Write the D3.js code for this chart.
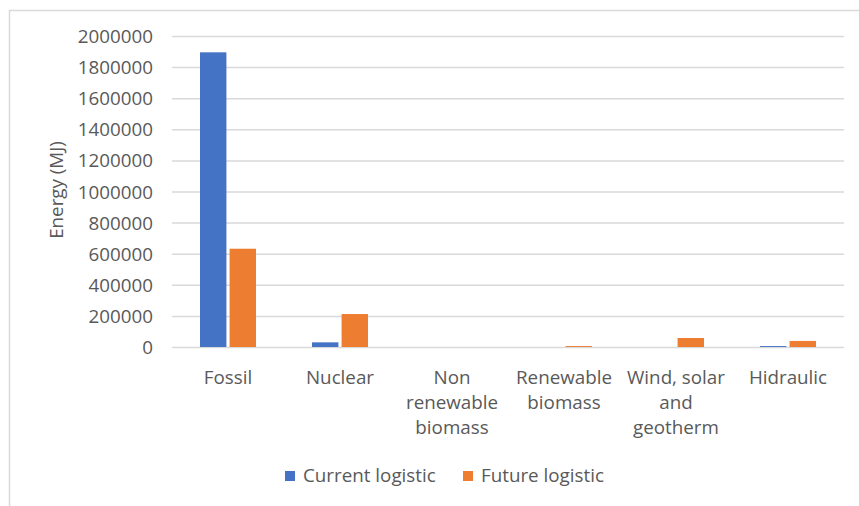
<!DOCTYPE html>
<html>
<head>
<meta charset="utf-8">
<script src="https://cdn.jsdelivr.net/npm/d3@7"></script>
<style>
  html, body { margin: 0; padding: 0; background: #fff; }
  svg { display: block; }
  text { font-family: "Open Sans", "Noto Sans", sans-serif; fill: #595959; }
</style>
</head>
<body>
<svg id="chart" width="859" height="506"></svg>
<script>
// Energy source categories (multi-line labels)
const categories = ["Fossil", "Nuclear", "Non renewable biomass", "Renewable biomass", "Wind, solar and geotherm", "Hidraulic"];
const categoryLines = [["Fossil"], ["Nuclear"], ["Non", "renewable", "biomass"], ["Renewable", "biomass"], ["Wind, solar", "and", "geotherm"], ["Hidraulic"]];
const seriesNames = ["Current logistic", "Future logistic"];
const currentLogistic = [1895000, 30000, 0, 0, 0, 6000];
const futureLogistic = [632000, 212000, 0, 6000, 58000, 39000];
const yTicks = [0, 200000, 400000, 600000, 800000, 1000000, 1200000, 1400000, 1600000, 1800000, 2000000];
const colors = ["#4472C4", "#ED7D31"];

const FONT = "18.8px";
const svg = d3.select("#chart");

// chart area frame (left and top edges visible)
svg.append("path")
  .attr("d", "M9.5,506 L9.5,10.5 L859,10.5")
  .attr("fill", "none").attr("stroke", "#d9d9d9").attr("stroke-width", 1.5);

const plot = { left: 172, right: 844, top: 36, bottom: 347 };

const x = d3.scaleBand().domain(categories).range([plot.left, plot.right]).paddingInner(0).paddingOuter(0);
const y = d3.scaleLinear().domain([0, 2000000]).range([plot.bottom, plot.top]);
const xs = d3.scaleBand().domain(seriesNames).range([28, x.bandwidth() - 28]).paddingInner(6 / 56);

// gridlines
const grid = svg.append("g").attr("transform", `translate(${plot.left},0)`)
  .call(d3.axisLeft(y).tickValues(yTicks).tickSize(-(plot.right - plot.left)).tickFormat(""));
grid.select(".domain").remove();
grid.selectAll(".tick line").attr("stroke", "#d9d9d9").attr("stroke-width", 1.5);

// y tick labels
const yAxis = svg.append("g").attr("transform", `translate(${plot.left - 19},0)`)
  .call(d3.axisLeft(y).tickValues(yTicks).tickSize(0).tickPadding(0).tickFormat(d3.format("d")));
yAxis.select(".domain").remove();
yAxis.selectAll("text").style("font-size", FONT).attr("fill", "#595959")
  .style("font-family", "'Open Sans', sans-serif").attr("dy", "0.35em");

// bars
const data = categories.map((c, i) => ({ cat: c, vals: [currentLogistic[i], futureLogistic[i]] }));
const groups = svg.append("g").selectAll("g").data(data).join("g")
  .attr("transform", d => `translate(${x(d.cat)},0)`);
groups.selectAll("rect").data(d => d.vals.map((v, k) => ({ v, k })))
  .join("rect")
  .attr("x", d => xs(seriesNames[d.k]))
  .attr("width", xs.bandwidth())
  .attr("y", d => y(d.v))
  .attr("height", d => plot.bottom - y(d.v))
  .attr("fill", d => colors[d.k]);

// category labels
const xl = svg.append("g");
categories.forEach((c, i) => {
  const t = xl.append("text")
    .attr("x", x(c) + x.bandwidth() / 2)
    .attr("y", 384)
    .attr("text-anchor", "middle")
    .style("font-size", FONT);
  categoryLines[i].forEach((line, j) => {
    t.append("tspan").attr("x", x(c) + x.bandwidth() / 2).attr("dy", j === 0 ? 0 : 25).text(line);
  });
});

// y axis title
svg.append("text")
  .attr("transform", "translate(63,190) rotate(-90)")
  .attr("text-anchor", "middle")
  .style("font-size", FONT)
  .text("Energy (MJ)");

// legend
const legendItems = [{ name: seriesNames[0], x: 285 }, { name: seriesNames[1], x: 463 }];
const lg = svg.append("g");
legendItems.forEach((d, k) => {
  lg.append("rect").attr("x", d.x).attr("y", 471).attr("width", 10).attr("height", 10).attr("fill", colors[k]);
  lg.append("text").attr("x", d.x + 18).attr("y", 482).style("font-size", FONT).text(d.name);
});
</script>
</body>
</html>
